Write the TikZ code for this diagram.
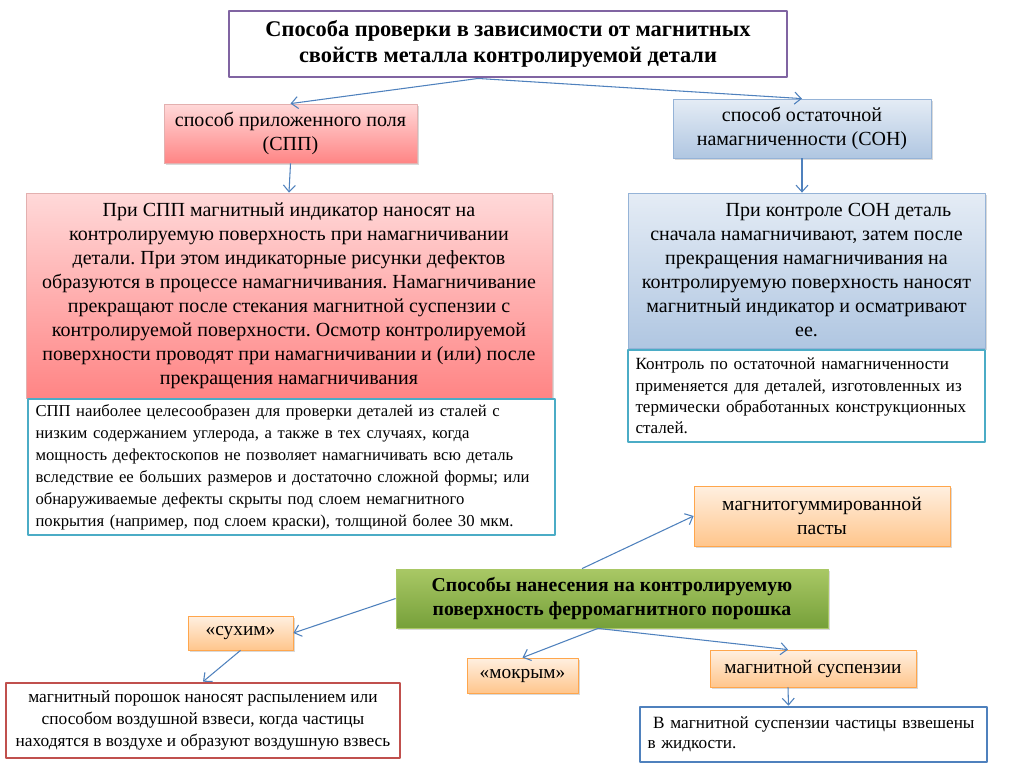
\documentclass[tikz,border=0pt]{standalone}
\usepackage{fontspec}
\setmainfont{Liberation Serif}
\usetikzlibrary{arrows.meta,shadows,calc}
\definecolor{arr}{HTML}{4F81BD}
\definecolor{lila}{HTML}{8064A2}
\definecolor{teal}{HTML}{4BACC6}
\definecolor{rot}{HTML}{C0504D}
\definecolor{gruenoben}{HTML}{A9C865}
\definecolor{gruenunten}{HTML}{76A03A}
\frenchspacing
\begin{document}
\begin{tikzpicture}[x=0.75pt,y=-0.75pt, line join=round,
	wh/.style 2 args={minimum width=#1*0.75pt, minimum height=#2*0.75pt},
	pinkbox/.style={draw=rot!45, line width=0.6pt, top color=red!15, bottom color=red!48!white, drop shadow={opacity=0.3,shadow xshift=1.5pt,shadow yshift=-1.5pt}},
	bluebox/.style={draw=arr!60, line width=0.6pt, top color=arr!15, bottom color=arr!45, drop shadow={opacity=0.3,shadow xshift=1.5pt,shadow yshift=-1.5pt}},
	orbox/.style={draw=orange!70, line width=0.6pt, top color=orange!12, bottom color=orange!45, drop shadow={opacity=0.3,shadow xshift=1.5pt,shadow yshift=-1.5pt}},
	greenbox/.style={draw=gruenoben, line width=0.6pt, top color=gruenoben, bottom color=gruenunten, drop shadow={opacity=0.3,shadow xshift=1.5pt,shadow yshift=-1.5pt}},
	framed/.style={draw=#1, line width=2pt, fill=white, align=left, inner xsep=5pt},
	pfeil/.style={draw=arr, line width=0.8pt, -{Straight Barb[length=5pt,width=9pt]}}]
	\def\fsz#1#2{\fontsize{#1}{#2}\selectfont}
	\useasboundingbox (0,0) rectangle (1024,767);
	% oben
	\node[draw=lila, line width=2.2pt, fill=white, wh={558}{66}, align=center, font=\fsz{16.8pt}{19.5pt}\bfseries] (top) at (508,44)
	{Способа проверки в зависимости от магнитных\\свойств металла контролируемой детали};
	\node[pinkbox, wh={253}{59}, align=center, font=\fsz{15pt}{18.5pt}] (spp) at (290.5,133.5) {способ приложенного поля\\(СПП)};
	\node[bluebox, wh={258}{59}, align=center, font=\fsz{15pt}{18pt}] (son) at (802,128.5) {способ остаточной\\намагниченности (СОН)};
	% links
	\node[pinkbox, wh={526}{205}, align=center, font=\fsz{15pt}{18pt}] (spptxt) at (289,295.5)
	{При СПП магнитный индикатор наносят на\\контролируемую поверхность при намагничивании\\детали. При этом индикаторные рисунки дефектов\\образуются в процессе намагничивания. Намагничивание\\прекращают после стекания магнитной суспензии с\\контролируемой поверхности. Осмотр контролируемой\\поверхности проводят при намагничивании и (или) после\\прекращения намагничивания};
	\node[framed=teal, wh={527}{136}, text width=512*0.75pt, font=\fsz{12.5pt}{16.5pt}] (sppnote) at (291.5,467)
	{СПП наиболее целесообразен для проверки деталей из сталей с\\низким содержанием углерода, а также в тех случаях, когда\\мощность дефектоскопов не позволяет намагничивать всю деталь\\вследствие ее больших размеров и достаточно сложной формы; или\\обнаруживаемые дефекты скрыты под слоем немагнитного\\покрытия (например, под слоем краски), толщиной более 30 мкм.};
	% rechts
	\node[bluebox, wh={357}{155}, align=center, font=\fsz{15pt}{18pt}] (sontxt) at (806.5,270.5)
	{\hspace*{3.2em}При контроле СОН деталь\\сначала намагничивают, затем после\\прекращения намагничивания на\\контролируемую поверхность наносят\\магнитный индикатор и осматривают\\ее.};
	\node[framed=teal, wh={357}{92}, text width=342*0.75pt, font=\fsz{12.8pt}{16pt}] (sonnote) at (806.5,396)
	{Контроль по остаточной намагниченности\\применяется для деталей, изготовленных из\\термически обработанных конструкционных\\сталей.};
	% unten
	\node[greenbox, wh={432}{59}, align=center, font=\fsz{14.8pt}{17.5pt}\bfseries] (weg) at (612,598.5)
	{Способы нанесения на контролируемую\\поверхность ферромагнитного порошка};
	\node[orbox, wh={256}{60}, align=center, font=\fsz{14.7pt}{17.5pt}] (paste) at (822,516) {магнитогуммированной\\пасты};
	\node[orbox, wh={105}{34}, font=\fsz{14.5pt}{15pt}] (dry) at (240.5,633) {«сухим»};
	\node[orbox, wh={111}{35}, font=\fsz{14.5pt}{15pt}] (wet) at (522.5,675.5) {«мокрым»};
	\node[orbox, wh={206}{37}, font=\fsz{14.5pt}{15pt}] (susp) at (813,668.5) {магнитной суспензии};
	\node[draw=rot, line width=2pt, fill=white, wh={394}{75}, align=center, font=\fsz{13pt}{16.5pt}] (drytxt) at (203,720.5)
	{магнитный порошок наносят распылением или\\способом воздушной взвеси, когда частицы\\находятся в воздухе и образуют воздушную взвесь};
	\node[framed=arr, wh={347}{55}, text width=332*0.75pt, font=\fsz{12.9pt}{15pt}] (susptxt) at (813.5,734.5)
	{\ В магнитной суспензии частицы взвешены\\в жидкости.};
	% pfeile
	\draw[pfeil] ($(top.south)+(-30,0)$) -- (spp.north);
	\draw[pfeil] ($(top.south)+(-30,0)$) -- (son.north);
	\draw[pfeil] (spp.south) -- (spptxt.north);
	\draw[pfeil] (son.south) -- (son.south |- sontxt.north);
	\draw[pfeil] ($(weg.north)+(-30,0)$) -- (paste.west);
	\draw[pfeil] (weg.west) -- (dry.east);
	\draw[pfeil] (dry.south) -- (drytxt.north);
	\draw[pfeil] ($(weg.south)+(-14,0)$) -- (wet.north);
	\draw[pfeil] ($(weg.south)+(-14,0)$) -- ($(susp.north)+(-25,0)$);
	\draw[pfeil] ($(susp.south)+(-25,0)$) -- ($(susptxt.north)+(-25,0)$);
\end{tikzpicture}
\end{document}
